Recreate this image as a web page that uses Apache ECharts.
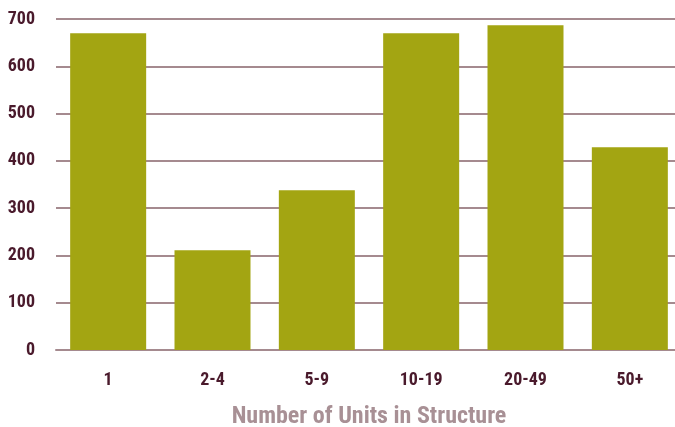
<!DOCTYPE html>
<html><head><meta charset="utf-8">
<script src="https://cdn.jsdelivr.net/npm/echarts@6/dist/echarts.min.js"></script>
<style>html,body{margin:0;padding:0;background:#fff}#c{width:675px;height:427px}</style>
</head><body><div id="c"></div>
<script>
const categories = ['1', '2-4', '5-9', '10-19', '20-49', '50+'];
const values = [670, 211, 338, 670, 687, 429];
const yTicks = [0, 100, 200, 300, 400, 500, 600, 700];
const xTitle = 'Number of Units in Structure';

const font = '"Roboto Condensed", "Liberation Sans Narrow", "DejaVu Sans Condensed", "Liberation Sans", Arial, sans-serif';
const chart = echarts.init(document.getElementById('c'), null, {renderer: 'canvas'});
chart.setOption({
  animation: false,
  backgroundColor: '#ffffff',
  grid: {left: 56, right: -7, top: 19, bottom: 77, containLabel: false, outerBoundsMode: 'none'},
  xAxis: {
    type: 'category',
    data: categories,
    axisLine: {show: true, lineStyle: {color: '#A58A8F', width: 2}},
    axisTick: {show: false},
    axisLabel: {color: '#4A1A2C', fontFamily: font, fontWeight: 'bold', fontSize: 18, margin: 21},
    name: xTitle,
    nameLocation: 'middle',
    nameGap: 55,
    nameTextStyle: {color: '#A89095', fontFamily: font, fontWeight: 'bold', fontSize: 24}
  },
  yAxis: {
    type: 'value',
    min: yTicks[0],
    max: yTicks[yTicks.length - 1],
    interval: 100,
    axisLine: {show: false},
    axisTick: {show: false},
    axisLabel: {color: '#4A1A2C', fontFamily: font, fontWeight: 'bold', fontSize: 18, margin: 21},
    splitLine: {show: true, lineStyle: {color: '#A58A8F', width: 2}}
  },
  series: [{
    type: 'bar',
    data: values,
    barWidth: 76,
    itemStyle: {color: '#A3A512'},
    z: 3
  }]
});
</script></body></html>
